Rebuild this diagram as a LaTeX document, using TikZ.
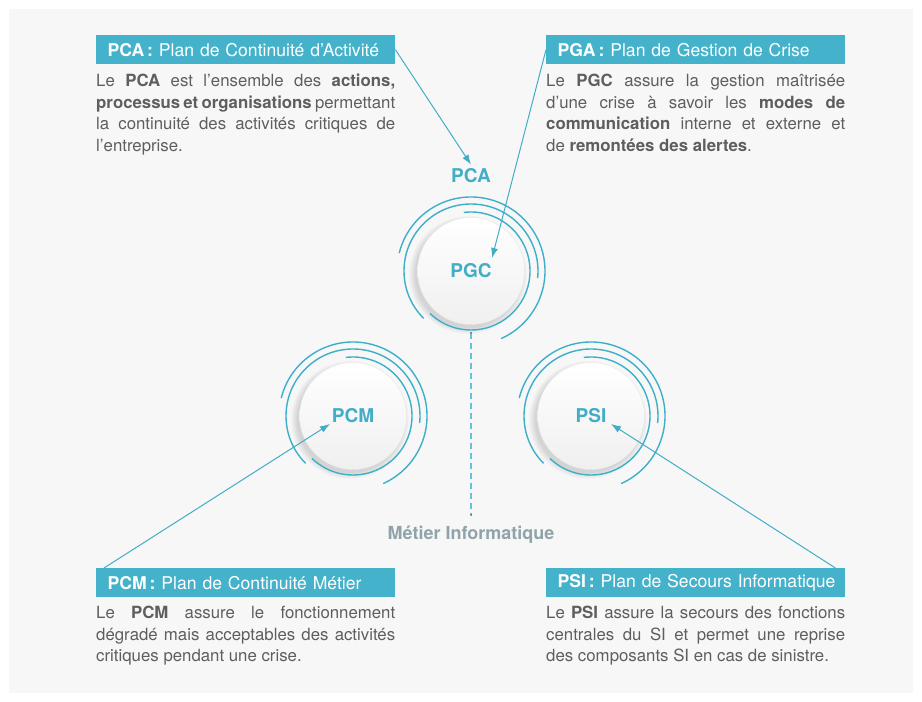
\documentclass[tikz,border=0pt]{standalone}
\usepackage{fontspec}
\setmainfont{TeX Gyre Heros}
\usepackage{tikz}
\usetikzlibrary{arrows.meta}
\definecolor{headteal}{HTML}{44B2CA}
\definecolor{ringteal}{HTML}{3DAFC8}
\definecolor{labelteal}{HTML}{42ADC6}
\definecolor{bodygrey}{HTML}{5E5E5E}
\definecolor{panelgrey}{HTML}{F7F7F7}
\definecolor{metiergrey}{HTML}{8FA4AA}
\definecolor{dashteal}{HTML}{62C3DA}

\begin{document}
\begin{tikzpicture}[x=1pt, y=1pt,
  head/.style={anchor=north west, fill=headteal, text=white, text width=282pt, minimum height=29pt, inner xsep=8.5pt, inner ysep=0pt, align=left, font=\fontsize{17.6}{20}\selectfont},
  body/.style={anchor=base west, text width=299pt, inner sep=0pt, align=justify, text=bodygrey, font=\fontsize{16.8}{21.5}\selectfont},
  disc/.style={circle, minimum size=107pt, inner sep=0pt, draw=black!9, top color=white, bottom color=black!6, text=labelteal, font=\fontsize{19}{19}\selectfont\bfseries},
  ring/.style={ringteal, line width=1.4pt},
  pointer/.style={labelteal, line width=1pt, -{Latex[length=10pt, width=7pt]}}]
\fill [white] (0,0) rectangle (922,702);
\useasboundingbox (0,0) rectangle (922,702);
\fill [panelgrey] (9,9) rectangle (913,693);

\foreach \n/\x/\y/\t in {pgc/471/431/PGC, pcm/353/286/PCM, psi/591/286/PSI} {
  \foreach \k in {1,...,7}
    \fill [black, opacity=0.018] (\x-3,\y-4) circle (52+\k);
  \node [disc] (\n) at (\x,\y) {\t};
  \draw [ring] (\x,\y) ++(166:74) arc [start angle=166, end angle=-66, radius=74];
  \draw [ring] (\x,\y) ++(225:67) arc [start angle=225, end angle=-6, radius=67];
  \draw [ring] (\x,\y) ++(97:59) arc [start angle=97, end angle=-134, radius=59];
}

\node [head] (pcahead) at (96,667) {\hspace*{3pt}\textbf{PCA\,:} Plan de Continuité d'Activité};
\node [head] (pgahead) at (546,667) {\hspace*{3pt}\textbf{PGA\,:} Plan de Gestion de Crise};
\node [head] (pcmhead) at (96,134) {\hspace*{3pt}\textbf{PCM\,:} Plan de Continuité Métier};
\node [head] (psihead) at (546,134) {\hspace*{3pt}\textbf{PSI\,:} Plan de Secours Informatique};

\node [body] (pcabody) at (96,615) {Le \textbf{PCA} est l'ensemble des \textbf{actions,}\linebreak \textbf{processus et organisations} permettant\linebreak la continuité des activités critiques de\linebreak l'entreprise.};
\node [body] (pgabody) at (546,615) {Le \textbf{PGC} assure la gestion maîtrisée\linebreak d'une crise à savoir les \textbf{modes de}\linebreak \textbf{communication} interne et externe et\linebreak de \textbf{remontées des alertes}.};
\node [body] (pcmbody) at (96,83) {Le \textbf{PCM} assure le fonctionnement\linebreak dégradé mais acceptables des activités\linebreak critiques pendant une crise.};
\node [body] (psibody) at (546,83) {Le \textbf{PSI} assure la secours des fonctions\linebreak centrales du SI et permet une reprise\linebreak des composants SI en cas de sinistre.};

\node [text=labelteal, font=\fontsize{19}{19}\selectfont\bfseries, inner sep=4pt] (pcalabel) at (471,526) {PCA};
\node [text=metiergrey, font=\fontsize{18}{18}\selectfont\bfseries, inner sep=3pt] (metier) at (471,167) {Métier Informatique};

\coordinate (pgctip) at (492,444);
\coordinate (pcmtip) at (330,278);
\coordinate (psitip) at (611,278);
\coordinate (dashtop) at (471,369);
\coordinate (dashbot) at (471,187);

\draw [dashteal, line width=2pt, dash pattern=on 6pt off 4pt] (dashtop) -- (dashbot);
\fill [black!60] (dashtop) circle (1);
\fill [black!60] (dashbot) circle (1);

\draw [pointer] (pcahead.east) -- (pcalabel.north);
\draw [pointer] (pgahead.west) -- (pgctip);
\draw [pointer] ([xshift=8pt]pcmhead.north west) -- (pcmtip);
\draw [pointer] ([xshift=-10pt]psihead.north east) -- (psitip);
\end{tikzpicture}
\end{document}
